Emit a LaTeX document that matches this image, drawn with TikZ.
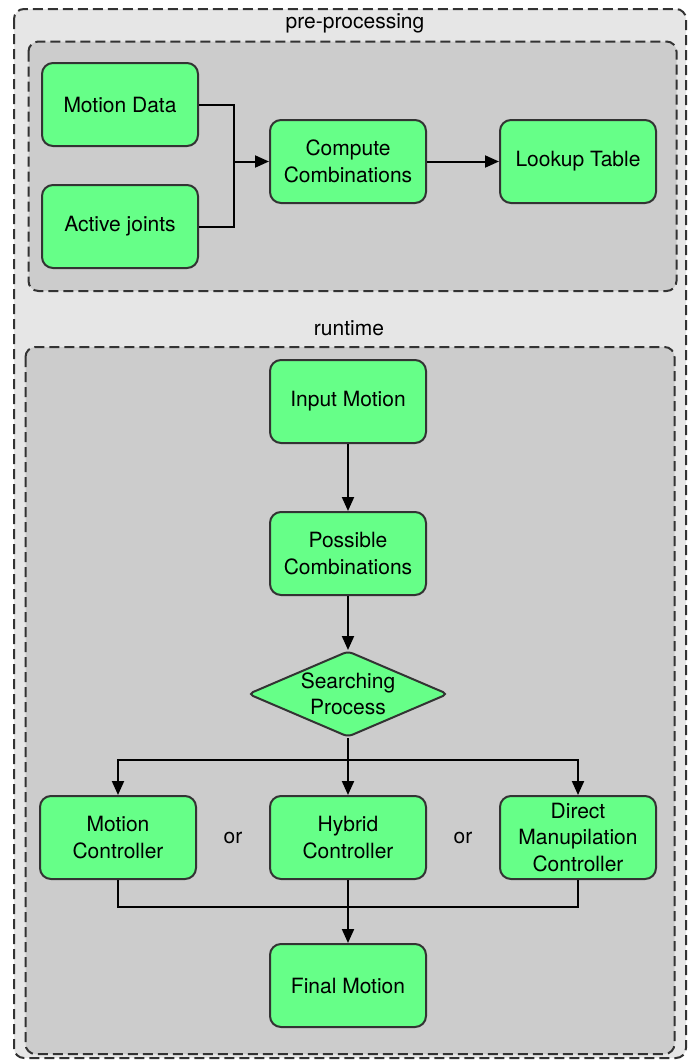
\documentclass[tikz,border=0pt]{standalone}
\usepackage{fontspec}
\setmainfont{TeX Gyre Heros}
\usetikzlibrary{arrows.meta, positioning, shapes.geometric, calc}
\definecolor{cGreen}{HTML}{66FF88}
\definecolor{cEdge}{HTML}{333333}
\definecolor{cOuter}{HTML}{E6E6E6}
\definecolor{cInner}{HTML}{CCCCCC}

\begin{document}
\begin{tikzpicture}[x=1pt, y=-1pt,
  font=\fontsize{21}{26.5}\selectfont,
  box/.style={draw=cEdge, fill=cGreen, line width=2pt, rounded corners=11pt, minimum width=156pt, minimum height=83pt, align=center, inner sep=2pt},
  decide/.style={diamond, draw=cEdge, fill=cGreen, line width=2pt, rounded corners=5pt, aspect=2.35, inner sep=0pt, minimum width=200pt, minimum height=86pt, align=center},
  group/.style={draw=cEdge, line width=2pt, dash pattern=on 10pt off 5pt, rounded corners=10pt},
  line/.style={line width=2pt},
  arr/.style={-{Triangle[length=14pt, width=12pt]}, line width=2pt}
]
\useasboundingbox (0,0) rectangle (689,1061);
\draw[group, fill=cOuter] (14,9) rectangle (686,1058);
\draw[group, fill=cInner] (28.5,41.5) rectangle (676.5,291);
\draw[group, fill=cInner] (25.5,347) rectangle (674.5,1054);
\node (prelbl) at (355,23) {pre-processing};
\node (runlbl) at (349,328) {runtime};

\node[box] (mdata) at (120,104.5) {Motion Data};
\node[box, below=37pt of mdata] (ajoints) {Active joints};
\node[box] (compute) at (348,161.5) {Compute\\Combinations};
\node[box, right=72pt of compute] (lookup) {Lookup Table};
\coordinate (jn) at ($(mdata.east)!0.5!(compute.west)$);
\draw[line] (mdata.east) -| (jn) |- (ajoints.east);
\draw[arr] (jn |- compute.west) -- (compute.west);
\draw[arr] (compute) -- (lookup);

\node[box] (input) at (348,401.5) {Input Motion};
\node[box, below=67pt of input] (possible) {Possible\\Combinations};
\node[decide, below=54pt of possible] (search) {Searching\\Process};
\node[box, below=57pt of search] (hybrid) {Hybrid\\Controller};
\node[box, left=72pt of hybrid] (mctrl) {Motion\\Controller};
\node[box, right=72pt of hybrid] (dctrl) {Direct\\Manupilation\\Controller};
\node (or1) at ($(mctrl)!0.5!(hybrid)$) {or};
\node (or2) at ($(hybrid)!0.5!(dctrl)$) {or};
\node[box, below=63pt of hybrid] (final) {Final Motion};
\draw[arr] (input) -- (possible);
\draw[arr] (possible) -- (search);
\coordinate (split) at ([yshift=-22pt]search.south);
\draw[line] (search.south) -- (split);
\draw[arr] (split) -| (mctrl.north);
\draw[arr] (split) -| (dctrl.north);
\draw[arr] (split) -- (hybrid.north);
\coordinate (merge) at ([yshift=-27pt]hybrid.south);
\draw[line] (mctrl.south) |- (merge) -| (dctrl.south);
\draw[line] (hybrid.south) -- (merge);
\draw[arr] (merge) -- (final.north);
\end{tikzpicture}
\end{document}
